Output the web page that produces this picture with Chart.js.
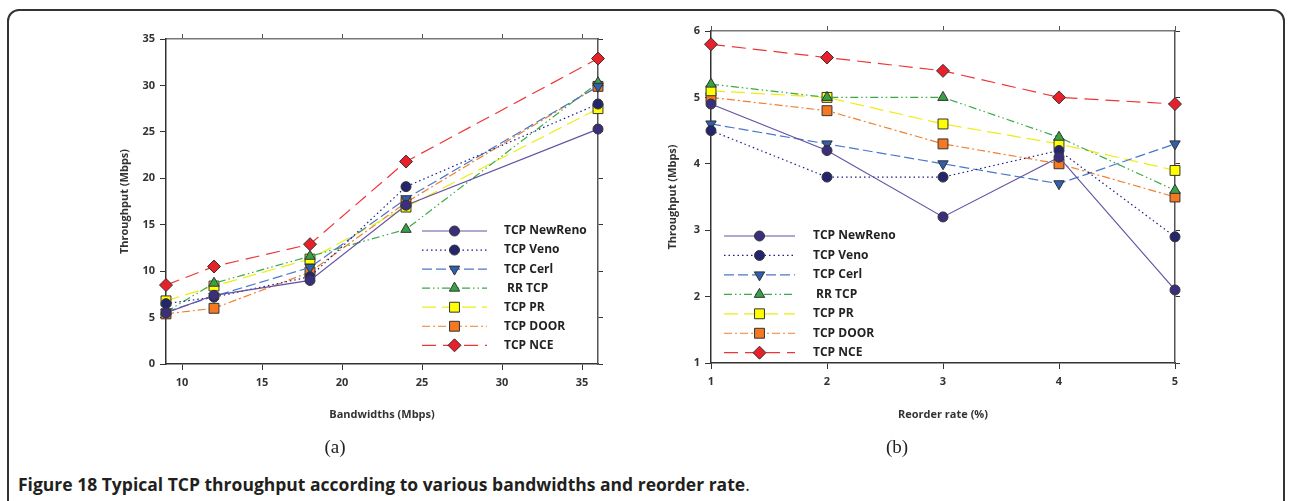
<!DOCTYPE html>
<html>
<head>
<meta charset="utf-8">
<script src="https://cdn.jsdelivr.net/npm/chart.js@4.4.1/dist/chart.umd.min.js"></script>
<style>
  body { margin: 0; background: #fff; width: 1289px; height: 501px; overflow: hidden; position: relative; font-family: 'Open Sans', sans-serif; }
  #frame { position: absolute; left: 7px; top: 9px; width: 1274px; height: 560px; border: 2px solid #333; border-radius: 12px; }
  canvas { position: absolute; top: 0; }
  #c1 { left: 0; }
  #c2 { left: 640px; }
  .sub { position: absolute; font-family: 'Liberation Serif', serif; font-size: 19px; color: #222; transform: translate(-50%, -50%); }
  #cap { position: absolute; left: 18px; top: 472px; font-weight: bold; font-size: 17.5px; color: #231f20; white-space: nowrap; }
  #cap span { font-weight: normal; }
</style>
</head>
<body>
<div id="frame"></div>
<canvas id="c1" width="640" height="440"></canvas>
<canvas id="c2" width="649" height="440"></canvas>
<div class="sub" style="left:335px;top:447px">(a)</div>
<div class="sub" style="left:897px;top:447px">(b)</div>
<div id="cap">Figure 18 Typical TCP throughput according to various bandwidths and reorder rate<span>.</span></div>
<script>
// x values
var bandwidths = [9, 12, 18, 24, 36];
var reorderRates = [1, 2, 3, 4, 5];
var seriesNames = ['TCP NewReno', 'TCP Veno', 'TCP Cerl', ' RR TCP', 'TCP PR', 'TCP DOOR', 'TCP NCE'];

// (a) throughput (Mbps) vs bandwidth
var bwNewReno = [5.5, 7.4, 9.0, 17.1, 25.3];
var bwVeno    = [6.5, 7.2, 9.4, 19.1, 28.0];
var bwCerl    = [5.6, 7.3, 10.4, 17.8, 29.9];
var bwRR      = [5.6, 8.7, 11.6, 14.5, 30.3];
var bwPR      = [6.8, 8.4, 11.3, 16.9, 27.5];
var bwDoor    = [5.4, 6.0, 9.9, 17.4, 29.9];
var bwNCE     = [8.5, 10.5, 12.9, 21.8, 32.9];

// (b) throughput (Mbps) vs reorder rate
var roNewReno = [4.9, 4.2, 3.2, 4.1, 2.1];
var roVeno    = [4.5, 3.8, 3.8, 4.2, 2.9];
var roCerl    = [4.6, 4.3, 4.0, 3.7, 4.3];
var roRR      = [5.2, 5.0, 5.0, 4.4, 3.6];
var roPR      = [5.1, 5.0, 4.6, 4.3, 3.9];
var roDoor    = [5.0, 4.8, 4.3, 4.0, 3.5];
var roNCE     = [5.8, 5.6, 5.4, 5.0, 4.9];

var bwTicks = [10, 15, 20, 25, 30, 35];

var looks = [
  { line: '#6552a3', fill: '#3a2f7c', dash: [], shape: 'circle', r: 5, rot: 0 },
  { line: '#1d1d86', fill: '#25256e', dash: [1.5, 3], shape: 'circle', r: 5, rot: 0 },
  { line: '#4a78c8', fill: '#2f5fae', dash: [10, 4], shape: 'triangle', r: 6, rot: 180 },
  { line: '#3aaa48', fill: '#35a244', dash: [8, 3, 1.5, 3, 1.5, 3], shape: 'triangle', r: 6, rot: 0 },
  { line: '#eded10', fill: '#ffff00', dash: [14, 6], shape: 'rect', r: 7, rot: 0 },
  { line: '#f08030', fill: '#f47920', dash: [8, 3, 2, 3], shape: 'rect', r: 7, rot: 0 },
  { line: '#ee3535', fill: '#e8202a', dash: [14, 7], shape: 'rectRot', r: 6.5, rot: 0 }
];

function makeSets(xs, series) {
  return series.map(function (ys, i) {
    var lk = looks[i];
    return {
      label: seriesNames[i],
      data: xs.map(function (x, j) { return { x: x, y: ys[j] }; }),
      borderColor: lk.line,
      borderWidth: 1.2,
      borderDash: lk.dash,
      pointStyle: lk.shape,
      pointRadius: lk.r,
      pointRotation: lk.rot,
      pointBackgroundColor: lk.fill,
      pointBorderColor: '#333',
      pointBorderWidth: 1,
      tension: 0,
      clip: false
    };
  });
}

var insideLegend = {
  id: 'insideLegend',
  afterDraw: function (chart, args, o) {
    var ctx = chart.ctx;
    chart.data.datasets.forEach(function (ds, i) {
      var y = o.y + i * o.dy;
      ctx.save();
      ctx.strokeStyle = ds.borderColor;
      ctx.lineWidth = ds.borderWidth;
      ctx.setLineDash(ds.borderDash);
      ctx.beginPath();
      ctx.moveTo(o.x0, y);
      ctx.lineTo(o.x1, y);
      ctx.stroke();
      ctx.setLineDash([]);
      ctx.fillStyle = ds.pointBackgroundColor;
      ctx.strokeStyle = ds.pointBorderColor;
      ctx.lineWidth = 1;
      Chart.helpers.drawPoint(ctx, { pointStyle: ds.pointStyle, radius: ds.pointRadius, rotation: ds.pointRotation, borderWidth: 1 }, (o.x0 + o.x1) / 2, y);
      ctx.fillStyle = '#222';
      ctx.font = 'bold 12px "Open Sans"';
      ctx.textBaseline = 'middle';
      ctx.fillText(ds.label, o.xt, y);
      ctx.restore();
    });
  }
};

Chart.defaults.font.family = '"Open Sans", sans-serif';
Chart.defaults.font.weight = 'bold';
Chart.defaults.font.size = 11;
Chart.defaults.color = '#333';

function makeChart(id, c) {
  var fixTicks = c.xTicks ? function (s) { s.ticks = c.xTicks.map(function (v) { return { value: v }; }); } : undefined;
  return new Chart(document.getElementById(id), {
    type: 'line',
    data: { datasets: c.sets },
    plugins: [insideLegend],
    options: {
      responsive: false,
      animation: false,
      layout: { padding: c.pad },
      plugins: { legend: { display: false }, tooltip: { enabled: false }, insideLegend: c.legend },
      scales: {
        x: {
          type: 'linear', min: c.xMin, max: c.xMax,
          afterBuildTicks: fixTicks,
          afterFit: function (s) { s.height = c.xH; },
          ticks: { stepSize: 1, padding: 6, color: '#333' },
          grid: { drawOnChartArea: false, color: '#333', tickLength: 6 },
          border: { color: '#333', width: 1.5 },
          title: { display: true, text: c.xTitle, padding: 0, font: { size: 11, weight: 'bold' } }
        },
        x2: {
          type: 'linear', position: 'top', min: c.xMin, max: c.xMax,
          afterBuildTicks: fixTicks,
          afterFit: function (s) { s.height = 0; },
          ticks: { display: false, stepSize: 1 },
          grid: { drawOnChartArea: false, color: '#555', tickLength: 5 },
          border: { color: '#777', width: 1.5 }
        },
        y: {
          min: c.yMin, max: c.yMax,
          afterFit: function (s) { s.width = c.yW; },
          ticks: { stepSize: c.yStep, padding: 5, color: '#333' },
          grid: { drawOnChartArea: false, color: '#333', tickLength: 6 },
          border: { color: '#333', width: 1.5 },
          title: { display: true, text: 'Throughput (Mbps)', padding: 0, font: { size: 11, weight: 'bold' } }
        },
        y2: {
          position: 'right', min: c.yMin, max: c.yMax,
          afterFit: function (s) { s.width = 0; },
          ticks: { display: false, stepSize: c.yStep },
          grid: { drawOnChartArea: false, color: '#333', tickLength: 5 },
          border: { color: '#555', width: 1.5 }
        }
      }
    }
  });
}

makeChart('c1', {
  sets: makeSets(bandwidths, [bwNewReno, bwVeno, bwCerl, bwRR, bwPR, bwDoor, bwNCE]),
  xMin: 9, xMax: 36, xTicks: bwTicks, xTitle: 'Bandwidths (Mbps)',
  yMin: 0, yMax: 35, yStep: 5,
  pad: { left: 118, top: 39, right: 42, bottom: 19 }, yW: 48, xH: 57,
  legend: { x0: 422, x1: 487, xt: 504, y: 231, dy: 19.05 }
});

makeChart('c2', {
  sets: makeSets(reorderRates, [roNewReno, roVeno, roCerl, roRR, roPR, roDoor, roNCE]),
  xMin: 1, xMax: 5, xTitle: 'Reorder rate (%)',
  yMin: 1, yMax: 6, yStep: 1,
  pad: { left: 26, top: 31, right: 114, bottom: 19 }, yW: 45, xH: 58,
  legend: { x0: 84, x1: 155, xt: 173, y: 236, dy: 19.45 }
});
</script>
</body>
</html>
